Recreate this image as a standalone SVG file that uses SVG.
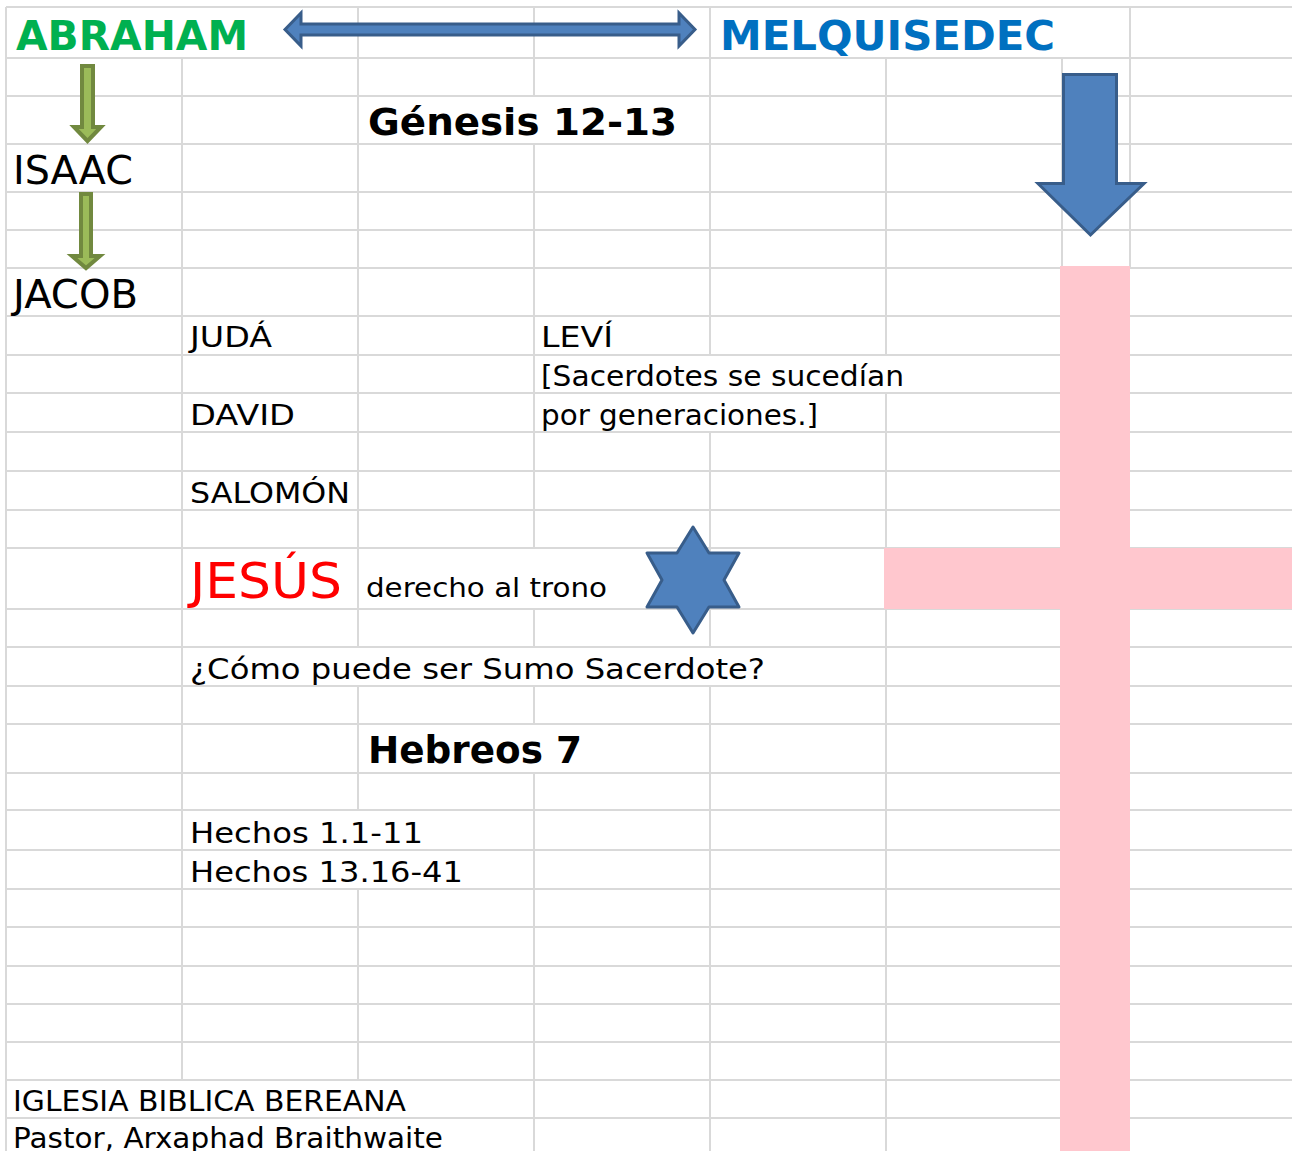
<svg xmlns="http://www.w3.org/2000/svg" width="1292" height="1151" viewBox="0 0 1292 1151">
<style>
.grid{stroke:#D9D9D9;stroke-width:2;fill:none}
.pink{fill:#FFC7CE}
.t{font-family:"DejaVu Sans",Verdana,sans-serif;fill:#000}
.b{font-weight:bold}
.blue{fill:#4F81BD;stroke:#385D8A;stroke-width:3;stroke-linejoin:miter}
.green{fill:#9BBB59;stroke:#71893F;stroke-width:4;stroke-linejoin:miter}
</style>
<rect width="1292" height="1151" fill="#fff"/>
<g id="grid" class="grid">
<path d="M6 7H1292M6 58H1292M6 96H1292M6 144H1292M6 192H1292M6 230H1292M6 268H1292M6 316H1292M6 355H1292M6 393H1292M6 432H1292M6 471H1292M6 510H1292M6 548H1292M6 609H1292M6 647H1292M6 686H1292M6 724H1292M6 773H1292M6 810H1292M6 850H1292M6 889H1292M6 927H1292M6 966H1292M6 1004H1292M6 1042H1292M6 1080H1292M6 1118H1292"/>
<path d="M6 7V1151M182 58V1080M358 7V647M358 686V810M358 889V1080M534 7V96M534 144V548M534 609V647M534 686V724M534 773V1151M710 7V355M710 432V647M710 686V1151M886 58V355M886 393V1151M1062 58V268M1130 7V268"/>
</g>
<g id="cross">
<rect class="pink" x="1060" y="266" width="70" height="885"/>
<rect class="pink" x="884" y="548" width="408" height="61"/>
</g>
<g id="connectors">
<polygon class="blue" points="285,29.5 301,13 301,24 679,24 679,13 695,29.5 679,46 679,35 301,35 301,46"/>
<polygon class="green" points="82,66 93,66 93,127 101,127 87.5,141 74,127 82,127"/>
<polygon class="green" points="81,194 91,194 91,256 100,256 86,268 72,256 81,256"/>
<polygon class="blue" points="1063.5,74.5 1116.5,74.5 1116.5,183.5 1144,183.5 1090.5,235 1038,183.5 1063.5,183.5"/>
</g>
<g id="star">
<polygon class="blue" style="stroke-linejoin:round" points="693,527 709,553 739,553 724,580 739,607 709,607 693,633 677,607 647,607 662,580 647,553 677,553"/>
</g>
<g id="n-abraham"><text class="t b" x="16" y="50" font-size="41" style="fill:#00B050" textLength="232" lengthAdjust="spacingAndGlyphs">ABRAHAM</text></g>
<g id="n-melquisedec"><text class="t b" x="720" y="50" font-size="41" style="fill:#0070C0" textLength="335" lengthAdjust="spacingAndGlyphs">MELQUISEDEC</text></g>
<g id="n-genesis"><text class="t b" x="368" y="135" font-size="38" textLength="309" lengthAdjust="spacingAndGlyphs">Génesis 12-13</text></g>
<g id="n-isaac"><text class="t" x="13" y="184" font-size="39" textLength="120" lengthAdjust="spacingAndGlyphs">ISAAC</text></g>
<g id="n-jacob"><text class="t" x="13" y="308" font-size="39" textLength="125" lengthAdjust="spacingAndGlyphs">JACOB</text></g>
<g id="n-juda"><text class="t" x="190" y="347" font-size="29" textLength="82" lengthAdjust="spacingAndGlyphs">JUDÁ</text></g>
<g id="n-levi"><text class="t" x="541" y="347" font-size="29" textLength="72" lengthAdjust="spacingAndGlyphs">LEVÍ</text></g>
<g id="n-sacerdotes">
<text class="t" x="541" y="386" font-size="29" textLength="363" lengthAdjust="spacingAndGlyphs">[Sacerdotes se sucedían</text>
<text class="t" x="541" y="425" font-size="29" textLength="277" lengthAdjust="spacingAndGlyphs">por generaciones.]</text>
</g>
<g id="n-david"><text class="t" x="190" y="425" font-size="29" textLength="105" lengthAdjust="spacingAndGlyphs">DAVID</text></g>
<g id="n-salomon"><text class="t" x="190" y="503" font-size="29" textLength="160" lengthAdjust="spacingAndGlyphs">SALOMÓN</text></g>
<g id="n-jesus"><text class="t" x="190" y="598" font-size="50" style="fill:#FF0000" textLength="152" lengthAdjust="spacingAndGlyphs">JESÚS</text></g>
<g id="n-derecho"><text class="t" x="366" y="597" font-size="27" textLength="241" lengthAdjust="spacingAndGlyphs">derecho al trono</text></g>
<g id="n-como"><text class="t" x="190" y="679" font-size="29" textLength="575" lengthAdjust="spacingAndGlyphs">¿Cómo puede ser Sumo Sacerdote?</text></g>
<g id="n-hebreos"><text class="t b" x="368" y="763" font-size="37" textLength="214" lengthAdjust="spacingAndGlyphs">Hebreos 7</text></g>
<g id="n-hechos">
<text class="t" x="190" y="843" font-size="29" textLength="233" lengthAdjust="spacingAndGlyphs">Hechos 1.1-11</text>
<text class="t" x="190" y="882" font-size="29" textLength="273" lengthAdjust="spacingAndGlyphs">Hechos 13.16-41</text>
</g>
<g id="n-iglesia">
<text class="t" x="13" y="1111" font-size="29" textLength="393" lengthAdjust="spacingAndGlyphs">IGLESIA BIBLICA BEREANA</text>
<text class="t" x="13" y="1148" font-size="29" textLength="430" lengthAdjust="spacingAndGlyphs">Pastor, Arxaphad Braithwaite</text>
</g>
</svg>
